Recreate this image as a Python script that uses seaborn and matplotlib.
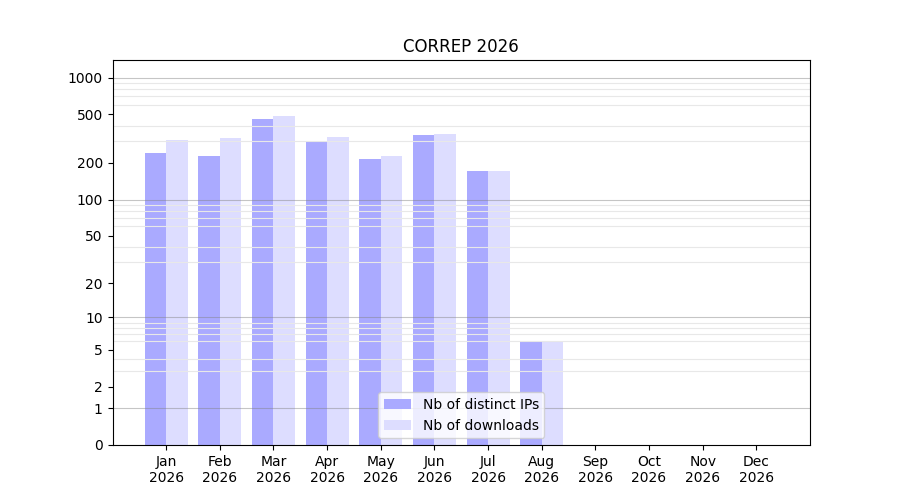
import numpy as np
import pandas as pd
import matplotlib
matplotlib.use("Agg")
import matplotlib.pyplot as plt
import seaborn as sns

# ----------------------
# Data
# ----------------------
months = ["Jan", "Feb", "Mar", "Apr", "May", "Jun",
          "Jul", "Aug", "Sep", "Oct", "Nov", "Dec"]
year = 2026
distinct_ips = [243, 230, 454, 300, 217, 336, 170, 6, 0, 0, 0, 0]
downloads = [311, 318, 481, 329, 229, 342, 170, 6, 0, 0, 0, 0]
series_names = ["Nb of distinct IPs", "Nb of downloads"]
series_colors = ["#aaaaff", "#ddddff"]
ytick_values = [0, 1, 2, 5, 10, 20, 50, 100, 200, 500, 1000]
decades = [1, 10, 100, 1000]

# ----------------------
# Build long table
# ----------------------
labels = [f"{m}\n{year}" for m in months]
df = pd.DataFrame({
    "month": labels * 2,
    "value": distinct_ips + downloads,
    "series": [series_names[0]] * len(labels) + [series_names[1]] * len(labels),
})

fig, ax = plt.subplots(figsize=(9, 5), dpi=100)

# log(1 + x) scale so zero stays on the axis
ax.set_yscale("function", functions=(lambda v: np.log10(1 + np.clip(v, 0, None)),
                                     lambda t: 10 ** t - 1))

sns.barplot(data=df, x="month", y="value", hue="series", order=labels,
            hue_order=series_names, palette=series_colors, saturation=1,
            width=0.8, ax=ax)

ax.set_ylim(0, 1390)
ax.set_xlim(-1, 12)
ax.set_xlabel("")
ax.set_ylabel("")
ax.set_title("CORREP 2026")

ax.set_yticks(ytick_values)
ax.set_yticklabels([str(v) for v in ytick_values])
minor = [m * d for d in decades[:-1] for m in range(2, 10)]
ax.set_yticks(minor, minor=True)
ax.tick_params(axis="y", which="minor", length=0)
ax.grid(axis="y", which="minor", color="#e8e8e8", lw=0.8)
for d in decades:
    ax.axhline(d, color="gray", alpha=0.45, lw=0.8, zorder=1.6)

ax.legend(loc="lower center", title=None)

fig.savefig("out.png", dpi=100)
